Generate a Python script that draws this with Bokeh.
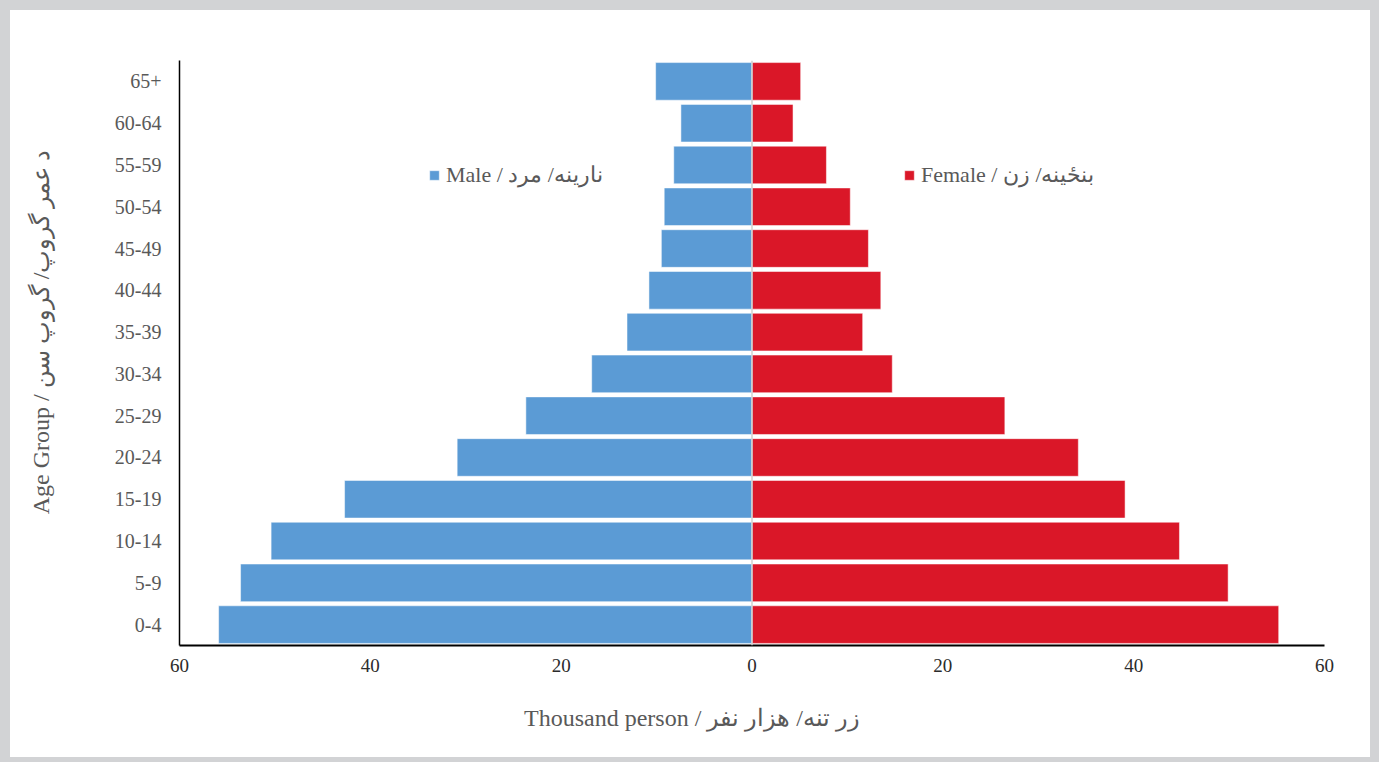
from bokeh.plotting import figure
from bokeh.models import FactorRange, Range1d, FixedTicker, Legend, LegendItem, Span, ColumnDataSource
from bokeh.embed import file_html
from bokeh.resources import INLINE

age_groups = ["0-4", "5-9", "10-14", "15-19", "20-24", "25-29", "30-34",
              "35-39", "40-44", "45-49", "50-54", "55-59", "60-64", "65+"]
male = [55.9, 53.6, 50.4, 42.7, 30.9, 23.7, 16.8, 13.1, 10.8, 9.5, 9.2, 8.2, 7.45, 10.1]
female = [55.2, 49.9, 44.8, 39.1, 34.2, 26.5, 14.7, 11.6, 13.5, 12.2, 10.3, 7.8, 4.3, 5.1]
x_ticks = [-60, -40, -20, 0, 20, 40, 60]
x_tick_labels = ["60", "40", "20", "0", "20", "40", "60"]

male_label = "Male / نارینه/ مرد"
female_label = "Female / بنځینه/ زن"
x_title = "Thousand person / زر تنه/ هزار نفر"
y_title = "Age Group / د عمر گروپ/ گروپ سن"

FONT = "Liberation Serif"
BLUE = "#5B9BD5"
RED = "#DA1728"
NB = "\u00a0"

src = ColumnDataSource(dict(age=age_groups, male=[-v for v in male], female=female))

p = figure(width=1360, height=747, output_backend="svg", toolbar_location=None,
           y_range=FactorRange(factors=age_groups, range_padding=0),
           x_range=Range1d(-60, 60),
           min_border_left=169, min_border_right=46, min_border_top=50, min_border_bottom=112,
           margin=(10, 9, 5, 10), outline_line_color=None,
           background_fill_color="white", border_fill_color="white",
           styles={"background-color": "white"})

rm = p.hbar(y="age", left="male", right=0, height=0.9, source=src,
            fill_color=BLUE, line_color="white", line_alpha=0.5, line_width=1)
rf = p.hbar(y="age", left=0, right="female", height=0.9, source=src,
            fill_color=RED, line_color="white", line_alpha=0.5, line_width=1)

p.add_layout(Span(location=0, dimension="height", line_color="#d0d0d0", line_width=1.5))

p.xgrid.visible = False
p.ygrid.visible = False

p.xaxis.ticker = FixedTicker(ticks=x_ticks)
p.xaxis.major_label_overrides = {t: l for t, l in zip(x_ticks, x_tick_labels)}
p.xaxis.major_tick_in = 0
p.xaxis.major_tick_out = 0
p.xaxis.minor_tick_in = 0
p.xaxis.minor_tick_out = 0
p.xaxis.axis_line_color = "black"
p.xaxis.axis_line_width = 2
p.xaxis.major_label_text_font = FONT
p.xaxis.major_label_text_font_size = "19px"
p.xaxis.major_label_text_color = "#2b2b2b"
p.xaxis.major_label_standoff = 13
p.xaxis.axis_label = x_title + NB * 20
p.xaxis.axis_label_text_font = FONT
p.xaxis.axis_label_text_font_size = "24px"
p.xaxis.axis_label_text_font_style = "normal"
p.xaxis.axis_label_text_color = "#595959"
p.xaxis.axis_label_standoff = 30

p.yaxis.major_tick_in = 0
p.yaxis.major_tick_out = 0
p.yaxis.axis_line_color = "black"
p.yaxis.axis_line_width = 1.5
p.yaxis.major_label_text_font = FONT
p.yaxis.major_label_text_font_size = "20px"
p.yaxis.major_label_text_color = "#595959"
p.yaxis.major_label_standoff = 18
p.yaxis.axis_label = NB * 7 + y_title
p.yaxis.axis_label_text_font = FONT
p.yaxis.axis_label_text_font_size = "24px"
p.yaxis.axis_label_text_font_style = "normal"
p.yaxis.axis_label_text_color = "#595959"
p.yaxis.axis_label_standoff = 58

def make_legend(label, r, loc):
    lg = Legend(items=[LegendItem(label=label, renderers=[r])], location=loc,
                border_line_color=None, background_fill_alpha=0,
                padding=0, margin=0, glyph_width=12, glyph_height=12, label_standoff=6,
                label_text_font=FONT, label_text_font_size="22px",
                label_text_color="#595959")
    return lg

p.add_layout(make_legend(male_label, rm, (249, 457)))
p.add_layout(make_legend(female_label, rf, (724, 457)))

html = file_html(p, INLINE)
html = html.replace("</head>",
                    "<style>html,body{background:#d2d3d5 !important;margin:0 !important;}</style></head>", 1)
open("out.html", "w").write(html)
